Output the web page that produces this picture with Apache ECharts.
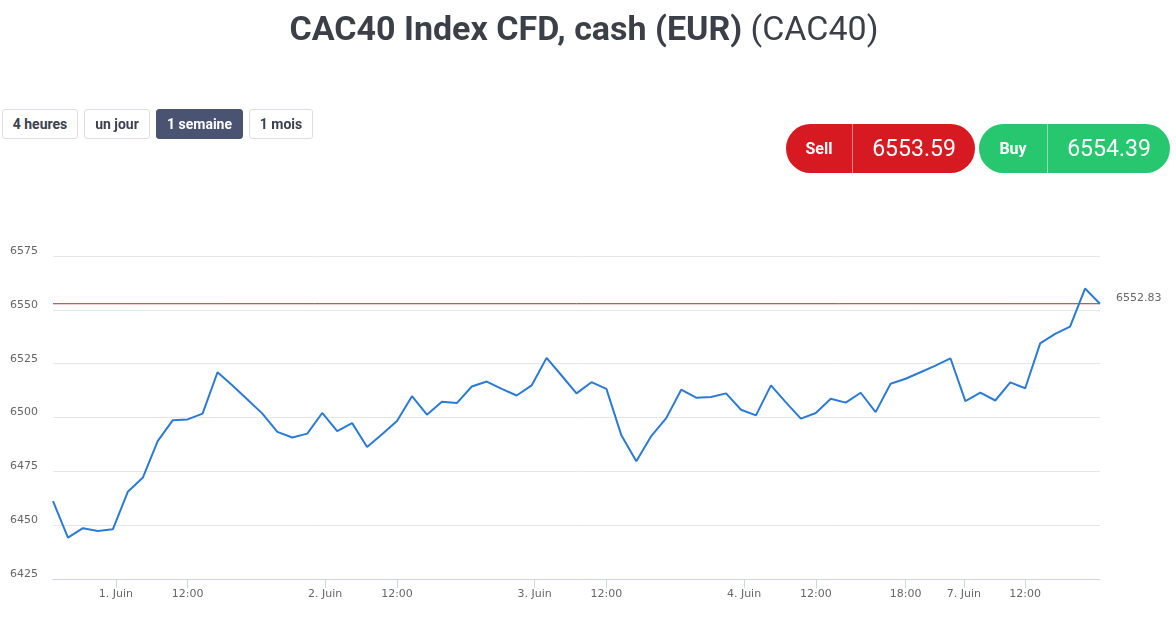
<!DOCTYPE html>
<html>
<head>
<meta charset="utf-8">
<script src="https://cdn.jsdelivr.net/npm/echarts@6/dist/echarts.min.js"></script>
<style>
  html, body { margin: 0; padding: 0; background: #ffffff; }
  #wrap { position: relative; width: 1176px; height: 620px; overflow: hidden; font-family: Roboto, "Noto Sans", sans-serif; }
  #chart { position: absolute; left: 0; top: 0; width: 1176px; height: 620px; }
  #title { position: absolute; left: -4px; top: 8px; width: 1176px; text-align: center; font-size: 34px; color: #3b3f48; line-height: 40px; }
  #title b { font-weight: 700; }
  .btn { position: absolute; top: 109px; height: 30px; box-sizing: border-box; border: 1px solid #dcdde2; border-radius: 3px; background: #fff; color: #3b4150; font-size: 14px; font-weight: 700; line-height: 28px; text-align: center; }
  .btn.active { background: #4a5372; border-color: #4a5372; color: #fff; }
  .pill { position: absolute; top: 124px; height: 49px; border-radius: 25px; color: #fff; }
  .pill .lbl { position: absolute; left: 0; top: 0; height: 49px; line-height: 49px; text-align: center; font-size: 16px; font-weight: 700; }
  .pill .div { position: absolute; top: 0; width: 1px; height: 49px; background: rgba(255,255,255,0.45); }
  .pill .val { position: absolute; top: 0; height: 49px; line-height: 49px; text-align: center; font-size: 23px; }
</style>
</head>
<body>
<div id="wrap">
  <div id="chart"></div>
  <div id="title"><b>CAC40 Index CFD, cash (EUR)</b> (CAC40)</div>
  <div class="btn" style="left:2px;width:76px;">4 heures</div>
  <div class="btn" style="left:84px;width:66px;">un jour</div>
  <div class="btn active" style="left:156px;width:87px;">1 semaine</div>
  <div class="btn" style="left:249px;width:64px;">1 mois</div>
  <div class="pill" style="left:786px;width:189px;background:#d71a22;">
    <div class="lbl" style="width:66px;">Sell</div>
    <div class="div" style="left:66px;"></div>
    <div class="val" style="left:67px;width:122px;">6553.59</div>
  </div>
  <div class="pill" style="left:979px;width:191px;background:#27c76f;">
    <div class="lbl" style="width:68px;">Buy</div>
    <div class="div" style="left:68px;"></div>
    <div class="val" style="left:69px;width:122px;">6554.39</div>
  </div>
</div>
<script>
// Hourly closes, ordinal (trading hours only): 31 May 17:00 ... 7 Juin 17:00
const prices = [
  6461.2, 6444.2, 6448.6, 6447.3, 6448.1,
  6465.5, 6472.0, 6489.0, 6498.7, 6499.1, 6501.8, 6521.0, 6514.9, 6508.4, 6501.8, 6493.3, 6490.7, 6492.5, 6502.1,
  6493.7, 6497.4, 6486.3, 6492.2, 6498.4, 6509.9, 6501.3, 6507.3, 6506.7, 6514.4, 6516.7, 6513.3, 6510.2, 6514.9,
  6527.7, 6519.5, 6511.2, 6516.4, 6513.3, 6491.7, 6479.7, 6491.4, 6499.7, 6512.9, 6509.2, 6509.5, 6511.2, 6503.6,
  6501.0, 6514.9, 6507.0, 6499.5, 6502.1, 6508.7, 6506.9, 6511.5, 6502.5, 6515.7, 6518.0, 6521.0, 6524.1, 6527.5,
  6507.6, 6511.5, 6507.9, 6516.3, 6513.6, 6534.4, 6538.8, 6542.2, 6559.9, 6552.83
];
// x-axis ticks on the ordinal (point index) scale
const tickPositions = [4.2, 9, 18.2, 23, 32.2, 37, 46.2, 51, 57, 60.9, 65];
const tickLabels = ['1. Juin', '12:00', '2. Juin', '12:00', '3. Juin', '12:00', '4. Juin', '12:00', '18:00', '7. Juin', '12:00'];
const yTicks = [6425, 6450, 6475, 6500, 6525, 6550, 6575];
const lastPrice = 6552.83;

const chart = echarts.init(document.getElementById('chart'), null, { renderer: 'canvas' });
const axisFont = '"DejaVu Sans", Verdana, sans-serif';
const lastIdx = prices.length - 1;
chart.setOption({
  animation: false,
  backgroundColor: 'transparent',
  grid: { left: 53, right: 76, top: 256, bottom: 41 },
  xAxis: {
    type: 'value',
    min: 0,
    max: lastIdx,
    splitLine: { show: false },
    axisLine: { show: true, lineStyle: { color: '#ccd6eb', width: 1 } },
    axisTick: { show: true, length: 9, lineStyle: { color: '#ccd6eb' }, customValues: tickPositions },
    axisLabel: {
      customValues: tickPositions,
      color: '#666666',
      fontFamily: axisFont,
      fontSize: 11,
      margin: 10,
      formatter: function (v) {
        const i = tickPositions.indexOf(v);
        return i >= 0 ? tickLabels[i] : '';
      }
    }
  },
  yAxis: {
    type: 'value',
    min: yTicks[0],
    max: yTicks[yTicks.length - 1],
    interval: 25,
    axisLine: { show: false },
    axisTick: { show: false },
    splitLine: { show: true, lineStyle: { color: '#e6e6e6', width: 1 } },
    axisLabel: {
      color: '#666666',
      fontFamily: axisFont,
      fontSize: 11,
      align: 'left',
      verticalAlign: 'middle',
      margin: 43,
      formatter: function (v) { return '{v|' + v + '}\n{s|}'; },
      rich: { v: { lineHeight: 12 }, s: { lineHeight: 10 } }
    }
  },
  series: [
    {
      // last price line
      type: 'line',
      name: 'last',
      data: [[0, lastPrice], [lastIdx, lastPrice]],
      showSymbol: false,
      symbol: 'none',
      silent: true,
      z: 2,
      lineStyle: { color: '#c4222a', width: 1 },
      emphasis: { disabled: true },
      endLabel: {
        show: true,
        distance: 16,
        color: '#666666',
        fontFamily: axisFont,
        fontSize: 11,
        formatter: function () { return '{v|' + lastPrice + '}\n{s|}'; },
        rich: { v: { lineHeight: 12 }, s: { lineHeight: 12 } }
      }
    },
    {
      type: 'line',
      name: 'CAC40',
      data: prices.map((v, i) => [i, v]),
      showSymbol: false,
      symbol: 'none',
      z: 3,
      emphasis: { disabled: true },
      lineStyle: { color: '#2b7bd4', width: 2 }
    }
  ]
});
</script>
</body>
</html>
